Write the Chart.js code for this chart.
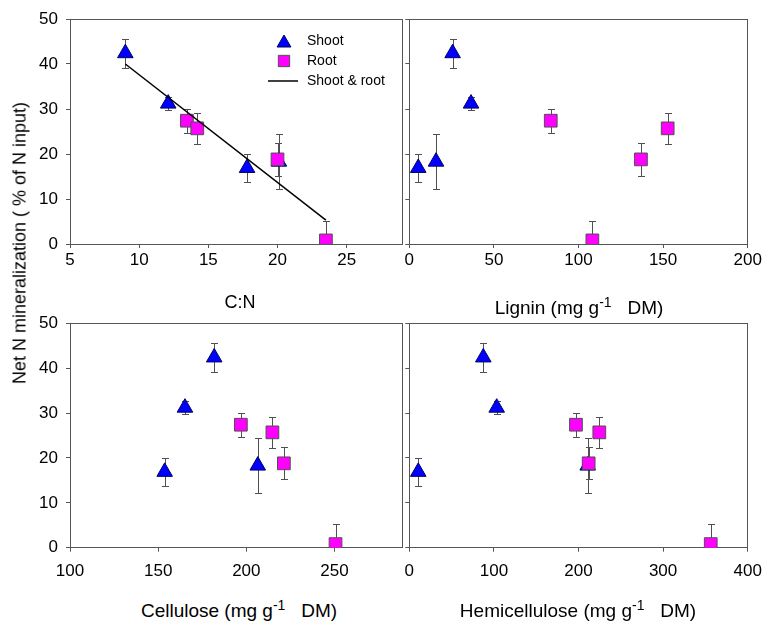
<!DOCTYPE html>
<html>
<head>
<meta charset="utf-8">
<script src="https://cdn.jsdelivr.net/npm/chart.js@4"></script>
<style>
  body { margin: 0; background: #fff; }
  #wrap { position: relative; width: 775px; height: 625px; font-family: "Liberation Sans", Arial, sans-serif; color: #000; }
  canvas { position: absolute; }
  .xt { position: absolute; font-size: 19px; line-height: 22px; white-space: nowrap; transform: translateX(-50%); }
  .xt sup { font-size: 14px; line-height: 0; }
  #ytitle { position: absolute; left: 20px; top: 243px; font-size: 18px; white-space: nowrap;
            transform: translate(-50%, -50%) rotate(-90deg); }
</style>
</head>
<body>
<div id="wrap">
  <canvas id="cCN" width="412" height="290" style="left:0;top:0"></canvas>
  <canvas id="cLig" width="390" height="290" style="left:395px;top:0"></canvas>
  <canvas id="cCel" width="412" height="290" style="left:0;top:300px"></canvas>
  <canvas id="cHem" width="390" height="290" style="left:395px;top:300px"></canvas>
  <div id="ytitle">Net N mineralization ( % of N input)</div>
  <div class="xt" style="left:240px;top:291px;font-size:18px">C:N</div>
  <div class="xt" style="left:579px;top:297px">Lignin (mg g<sup>-1</sup>&nbsp;&nbsp; DM)</div>
  <div class="xt" style="left:239px;top:600px">Cellulose (mg g<sup>-1</sup>&nbsp;&nbsp; DM)</div>
  <div class="xt" style="left:578px;top:600px">Hemicellulose (mg g<sup>-1</sup>&nbsp;&nbsp; DM)</div>
</div>
<script>
// net N mineralization (% of N input) with standard errors
const shootNmin = [42.4, 31.2, 16.9, 18.3];
const shootErr  = [3.2, 1.4, 3.1, 6.1];
const rootNmin  = [27.4, 25.7, 18.8, 0.8];
const rootErr   = [2.7, 3.4, 3.6, 4.4];

// residue quality
const shootCN   = [9.0, 12.1, 17.8, 20.1];
const rootCN    = [13.45, 14.2, 20.0, 23.5];
const shootLig  = [25.6, 36.5, 5.3, 15.8];
const rootLig   = [83.6, 152.7, 136.9, 108.2];
const shootCel  = [181.8, 165.2, 153.7, 206.5];
const rootCel   = [196.9, 214.8, 221.3, 250.6];
const shootHem  = [87.5, 103.3, 10.6, 210.9];
const rootHem   = [197, 224.6, 212, 356.3];

// shoot & root regression on C:N
const fitCN   = [9.0, 23.5];
const fitNmin = [40.0, 5.3];

const yTicks   = [0, 10, 20, 30, 40, 50];
const cnTicks  = [5, 10, 15, 20, 25];
const ligTicks = [0, 50, 100, 150, 200];
const celTicks = [100, 150, 200, 250];
const hemTicks = [0, 100, 200, 300, 400];

const AXIS = '#555';
const SHOOT_FILL = '#0000ff', SHOOT_LINE = '#000060';
const ROOT_FILL = '#ff00ff', ROOT_LINE = '#505050';

const pts = (xs, ys) => xs.map((x, i) => ({ x: x, y: ys[i] }));

// error bars, drawn under the symbols
const errorBars = {
  id: 'errorBars',
  beforeDatasetsDraw(chart) {
    const { ctx, chartArea: a, scales: { x, y } } = chart;
    ctx.save();
    ctx.beginPath();
    ctx.rect(a.left, a.top, a.width, a.height);
    ctx.clip();
    ctx.strokeStyle = '#505050';
    ctx.lineWidth = 1;
    chart.data.datasets.forEach(ds => {
      if (!ds.errors) return;
      ds.data.forEach((p, i) => {
        const px = Math.round(x.getPixelForValue(p.x)) + 0.5;
        const top = Math.round(y.getPixelForValue(p.y + ds.errors[i])) + 0.5;
        const bot = Math.round(y.getPixelForValue(p.y - ds.errors[i])) + 0.5;
        ctx.beginPath();
        ctx.moveTo(px, top); ctx.lineTo(px, bot);
        ctx.moveTo(px - 3.5, top); ctx.lineTo(px + 3.5, top);
        ctx.moveTo(px - 3.5, bot); ctx.lineTo(px + 3.5, bot);
        ctx.stroke();
      });
    });
    ctx.restore();
  }
};

// box round the plot area
const frame = {
  id: 'frame',
  beforeDatasetsDraw(chart) {
    const { ctx, chartArea: a } = chart;
    ctx.save();
    ctx.strokeStyle = AXIS;
    ctx.lineWidth = 1;
    ctx.strokeRect(Math.round(a.left) + 0.5, Math.round(a.top) + 0.5,
                   Math.round(a.right - a.left), Math.round(a.bottom - a.top));
    ctx.restore();
  }
};

// legend inside the C:N panel
const innerLegend = {
  id: 'innerLegend',
  afterDraw(chart) {
    const ctx = chart.ctx;
    ctx.save();
    ctx.font = '14px "Liberation Sans", Arial, sans-serif';
    ctx.fillStyle = '#000';
    ctx.textBaseline = 'middle';
    const items = chart.data.datasets.slice().reverse();
    items.forEach((ds, i) => {
      const yy = 41 + i * 20;
      if (ds.showLine) {
        ctx.strokeStyle = ds.borderColor;
        ctx.lineWidth = 1.5;
        ctx.beginPath(); ctx.moveTo(268, yy); ctx.lineTo(298, yy); ctx.stroke();
      } else {
        ctx.fillStyle = ds.backgroundColor;
        ctx.strokeStyle = ds.borderColor;
        ctx.lineWidth = 1;
        Chart.helpers.drawPoint(ctx, { pointStyle: ds.pointStyle, radius: 8, borderWidth: 1 }, 284, yy + (ds.pointStyle === 'triangle' ? 2 : 0));
        ctx.fillStyle = '#000';
      }
      ctx.fillText(ds.label, 307, yy);
    });
    ctx.restore();
  }
};

function makePanel(id, opt) {
  const datasets = [];
  if (opt.fit) {
    datasets.push({
      label: 'Shoot & root', data: pts(fitCN, fitNmin), showLine: true,
      borderColor: '#000', borderWidth: 1.5, pointRadius: 0, order: 0
    });
  }
  datasets.push({
    label: 'Root', data: pts(opt.rootX, rootNmin), errors: rootErr,
    pointStyle: 'rect', pointRadius: 9, backgroundColor: ROOT_FILL,
    borderColor: ROOT_LINE, borderWidth: 1, order: 1
  });
  datasets.push({
    label: 'Shoot', data: pts(opt.shootX, shootNmin), errors: shootErr,
    pointStyle: 'triangle', pointRadius: 9, backgroundColor: SHOOT_FILL,
    borderColor: SHOOT_LINE, borderWidth: 1, order: 2
  });

  const tickFont = { family: '"Liberation Sans", Arial, sans-serif', size: 17 };
  const plugins = [errorBars, frame];
  if (opt.legend) plugins.push(innerLegend);

  return new Chart(document.getElementById(id), {
    type: 'scatter',
    data: { datasets: datasets },
    plugins: plugins,
    options: {
      responsive: false,
      animation: false,
      layout: { padding: { top: opt.top, right: opt.right, left: 0, bottom: 0 } },
      plugins: { legend: { display: false }, tooltip: { enabled: false } },
      scales: {
        x: {
          type: 'linear', min: opt.xMin, max: opt.xMax,
          afterBuildTicks: s => { s.ticks = opt.xTicks.map(v => ({ value: v })); },
          afterFit: s => { s.height = opt.xh; },
          grid: { drawOnChartArea: false, color: AXIS, tickLength: 4 },
          border: { color: AXIS },
          ticks: { color: '#000', font: tickFont, padding: opt.xPad, maxRotation: 0 }
        },
        y: {
          type: 'linear', min: 0, max: 50,
          afterBuildTicks: s => { s.ticks = yTicks.map(v => ({ value: v })); },
          afterFit: s => { s.width = opt.yw; },
          grid: { drawOnChartArea: false, color: AXIS, tickLength: 4 },
          border: { color: AXIS },
          ticks: { display: opt.yLabels, color: '#000', font: tickFont, padding: 8 }
        }
      }
    }
  });
}

makePanel('cCN', { shootX: shootCN, rootX: rootCN, xMin: 5, xMax: 29, xTicks: cnTicks,
  top: 19, right: 3, xh: 46, yw: 70, yLabels: true, fit: true, legend: true, xPad: 2 });
makePanel('cLig', { shootX: shootLig, rootX: rootLig, xMin: 0, xMax: 200, xTicks: ligTicks,
  top: 19, right: 37.3, xh: 46, yw: 14.3, yLabels: false, xPad: 2 });
makePanel('cCel', { shootX: shootCel, rootX: rootCel, xMin: 100, xMax: 288.3, xTicks: celTicks,
  top: 23.3, right: 3, xh: 42.3, yw: 70, yLabels: true, xPad: 9 });
makePanel('cHem', { shootX: shootHem, rootX: rootHem, xMin: 0, xMax: 400, xTicks: hemTicks,
  top: 23.3, right: 37.3, xh: 42.3, yw: 14.3, yLabels: false, xPad: 9 });
</script>
</body>
</html>
